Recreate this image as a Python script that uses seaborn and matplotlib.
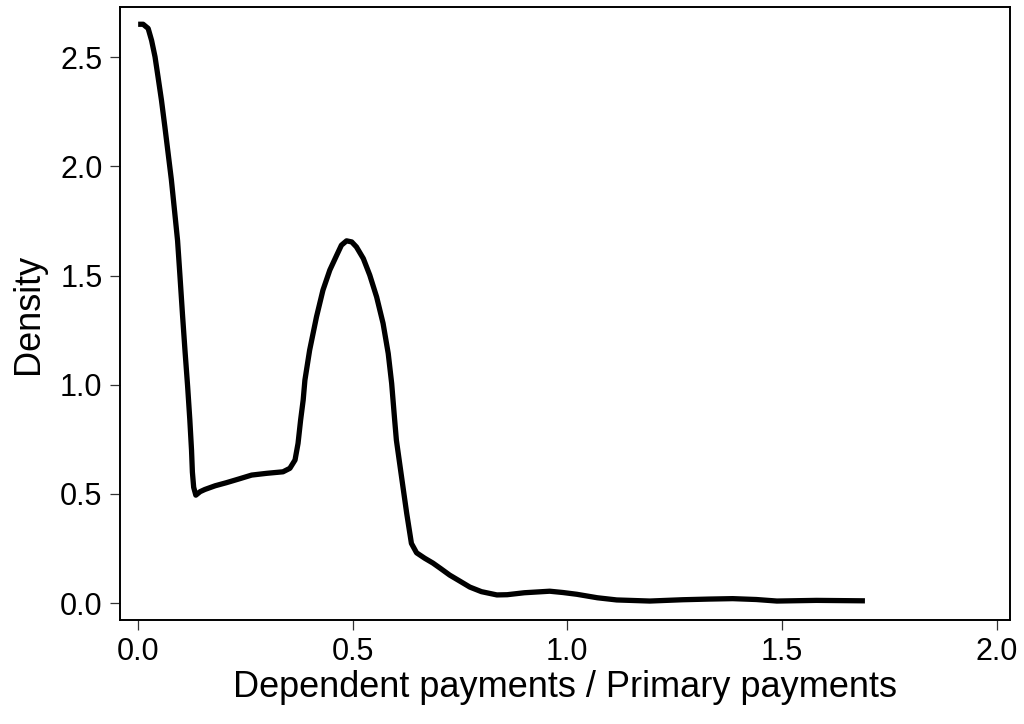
import matplotlib
matplotlib.use("Agg")
import matplotlib.pyplot as plt
import seaborn as sns
import pandas as pd

ratio = [0.0007, 0.0123, 0.024, 0.032, 0.040, 0.047, 0.055, 0.063, 0.0705, 0.078,
         0.086, 0.0925, 0.098, 0.104, 0.110, 0.116, 0.121, 0.125, 0.127, 0.130,
         0.135, 0.145, 0.156, 0.180, 0.206, 0.235, 0.265, 0.300, 0.338, 0.354,
         0.366, 0.373, 0.379, 0.385, 0.389, 0.400, 0.416, 0.431, 0.447, 0.463,
         0.474, 0.486, 0.498, 0.509, 0.525, 0.540, 0.556, 0.571, 0.583, 0.591,
         0.598, 0.602, 0.614, 0.626, 0.637, 0.649, 0.668, 0.687, 0.705, 0.726,
         0.750, 0.773, 0.800, 0.836, 0.860, 0.900, 0.959, 0.990, 1.022, 1.070,
         1.115, 1.192, 1.269, 1.330, 1.385, 1.440, 1.488, 1.580, 1.693]
density = [2.651, 2.651, 2.632, 2.577, 2.502, 2.410, 2.303, 2.180, 2.060, 1.940,
           1.786, 1.660, 1.500, 1.320, 1.150, 0.990, 0.840, 0.700, 0.600, 0.530,
           0.494, 0.510, 0.520, 0.537, 0.551, 0.568, 0.586, 0.594, 0.601, 0.617,
           0.655, 0.731, 0.838, 0.930, 1.021, 1.158, 1.311, 1.433, 1.525, 1.593,
           1.639, 1.659, 1.654, 1.631, 1.578, 1.502, 1.402, 1.281, 1.143, 1.006,
           0.838, 0.746, 0.578, 0.411, 0.273, 0.230, 0.205, 0.183, 0.158, 0.128,
           0.100, 0.073, 0.052, 0.037, 0.038, 0.047, 0.054, 0.048, 0.040, 0.024,
           0.014, 0.009, 0.015, 0.018, 0.020, 0.016, 0.009, 0.012, 0.010]

x_ticks = [0.0, 0.5, 1.0, 1.5, 2.0]
y_ticks = [0.0, 0.5, 1.0, 1.5, 2.0, 2.5]

sns.set_theme(style="ticks")
plt.rcParams['font.family'] = ['Liberation Sans', 'DejaVu Sans']

df = pd.DataFrame({"ratio": ratio, "density": density})

fig = plt.figure(figsize=(10.24, 7.24), dpi=100)
ax = fig.add_axes([0.117, 0.1436, 0.869, 0.8464])
sns.lineplot(data=df, x="ratio", y="density", ax=ax, color="black",
             linewidth=3.8, sort=False, solid_capstyle="butt", solid_joinstyle="round")

ax.set_xlim(-0.042, 2.030)
ax.set_ylim(-0.078, 2.729)
ax.set_xticks(x_ticks)
ax.set_xticklabels([f"{v:.1f}" for v in x_ticks])
ax.set_yticks(y_ticks)
ax.set_yticklabels([f"{v:.1f}" for v in y_ticks])
for s in ax.spines.values():
    s.set_visible(True)
    s.set_color("black")
    s.set_linewidth(1.4)
ax.tick_params(axis="both", direction="out", length=7.5, width=0.9, color="#333333",
               labelsize=22, labelcolor="black", pad=5)
ax.set_xlabel("Dependent payments / Primary payments", fontsize=26, labelpad=2, color="black")
ax.set_ylabel("Density", fontsize=26, labelpad=10, color="black")

fig.savefig("out.png", dpi=100)
